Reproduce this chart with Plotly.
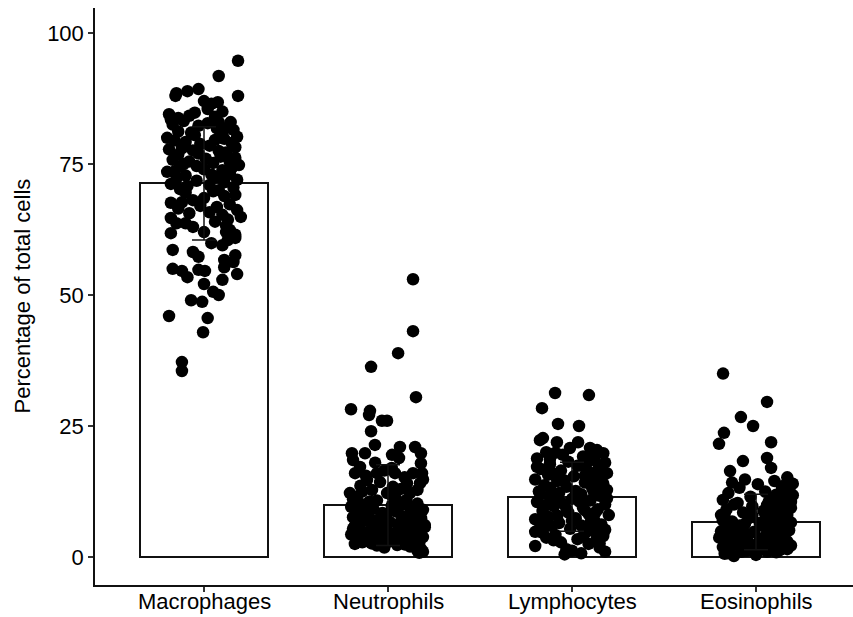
import plotly.graph_objects as go

categories = ["Macrophages", "Neutrophils", "Lymphocytes", "Eosinophils"]
means = [71.3, 9.9, 11.5, 6.7]
sds = [10.8, 7.7, 6.6, 5.3]
y_ticks = [0, 25, 50, 75, 100]

# (value, horizontal jitter offset in category units)
macrophages = [
    (94.7, .185), (91.8, .08), (88.0, .185), (88.5, -.15), (88.9, -.09), (89.3, -.03), (88.0, -.155),
    (87.0, .0), (86.5, .04), (86.8, .075), (85.5, .02), (85.0, .1), (84.0, .06), (83.5, -.18),
    (83.8, -.14), (83.2, -.11), (82.5, -.17), (82.0, .13), (81.5, .16), (83.0, .145), (80.5, -.05),
    (81.0, -.07), (80.0, -.2), (79.5, -.16), (79.8, .11), (79.0, .15), (78.5, .03), (78.0, -.12),
    (77.5, .08), (77.8, -.19), (77.0, -.03), (76.5, .12), (76.2, .17), (75.8, -.17), (75.5, -.08),
    (75.2, .05), (74.8, .19), (74.5, -.13), (74.0, .0), (73.8, .1), (73.5, -.2), (73.2, .14),
    (72.8, -.1), (72.5, .07), (72.2, -.15), (72.0, .18), (71.8, -.04), (71.5, .11), (71.2, -.18),
    (71.0, .03), (70.8, -.09), (70.5, .16), (70.2, -.13), (70.0, .08),
    (84.5, -.19), (84.2, -.08), (82.8, .02), (82.3, -.03), (81.8, .07), (80.8, .1), (80.2, .18),
    (79.2, -.1), (78.8, -.02), (78.2, .17), (77.2, .12), (76.8, -.14), (76.0, .01), (75.0, -.11),
    (74.2, .15), (73.0, .04), (72.7, .12), (84.8, -.05), (83.0, .08), (81.2, -.14), (79.6, .06),
    (77.6, -.06), (76.4, .09), (75.4, .14), (74.6, -.04), (73.6, -.16),
    (69.5, -.1), (69.1, .17), (68.5, .0), (68.1, -.06), (67.7, -.12), (67.6, -.18), (67.3, .14),
    (66.8, .07), (66.2, .18), (65.8, .03), (65.3, .1), (64.9, .2), (64.7, -.18), (64.4, .13),
    (63.7, -.15), (63.7, -.1), (63.2, .12), (63.0, -.06), (62.4, .14), (62.0, .0), (62.0, .12),
    (61.8, -.18), (61.5, .17), (60.9, .17), (60.5, .13), (59.9, .04), (59.5, .1), (58.6, -.17),
    (58.2, -.06), (57.6, .17), (57.3, -.03), (56.7, .11), (56.3, .16), (55.3, .11), (55.0, -.17),
    (54.8, -.03), (54.6, -.12), (54.6, .005), (54.0, .18), (53.4, -.09), (52.9, .10), (52.1, .0),
    (50.6, .05), (50.0, .08), (49.0, -.07), (48.7, -.01), (46.0, -.19), (45.6, .02), (42.9, -.005),
    (37.2, -.12), (35.5, -.12),
    (69.8, .05), (68.9, .11), (67.0, -.02), (66.5, -.14), (65.6, -.08), (64.0, .06),
]

neutrophils = [
    (53.0, .136), (43.1, .136), (38.9, .055), (36.3, -.092), (30.5, .152), (28.2, -.201), (27.9, -.098),
    (27.1, -.103), (26.0, -.033), (26.0, -.005), (24.0, -.092), (21.4, -.071), (21.0, .065), (21.0, .147),
    (19.8, -.196), (19.8, -.125), (19.8, .179), (19.5, .022), (18.9, .060), (18.5, -.19), (17.9, .179),
    (17.2, -.152), (16.0, -.179), (16.0, -.060), (16.0, .038), (16.0, .136), (16.0, .185), (14.7, -.114),
    (14.3, -.043), (14.1, .103), (14.1, .174), (13.4, .027), (12.8, -.087), (12.2, -.207), (12.2, -.005),
    (12.2, .12), (11.5, -.168),
    (11.0, -.19), (10.8, -.06), (10.5, .09), (10.2, .16), (10.0, -.13), (9.8, .02), (9.6, -.2),
    (9.4, .12), (9.2, -.08), (9.0, .19), (8.8, -.16), (8.6, .05), (8.4, -.03), (8.2, .14), (8.0, -.11),
    (7.8, .08), (7.6, -.19), (7.4, .18), (7.2, -.05), (7.0, .1), (6.9, -.14), (6.7, .01), (6.5, .15),
    (6.3, -.09), (6.1, .2), (6.0, -.18), (5.8, .06), (5.6, -.02), (5.5, .13), (5.3, -.15), (5.1, .09),
    (5.0, -.07), (4.8, .17), (4.6, -.12), (4.5, .03), (4.3, -.2), (4.2, .11), (4.0, -.04), (3.8, .19),
    (3.7, -.16), (3.5, .07), (3.3, -.09), (3.2, .14), (3.0, -.13), (2.9, .0), (2.7, .17), (2.5, -.18),
    (2.3, .05), (2.2, -.06), (2.0, .12), (1.8, -.02), (1.5, .18), (1.2, .16), (1.0, .19), (0.8, .17),
    (10.9, .1), (10.3, -.17), (9.9, .07), (9.1, -.12), (8.9, .02), (8.1, -.17), (7.9, .13), (7.3, -.1),
    (6.8, .07), (6.2, -.04), (5.9, .16), (5.4, -.19), (4.9, .0), (4.4, .15), (3.9, -.1), (3.4, .1),
    (2.8, -.14), (2.4, .09), (1.9, .15), (11.3, .04), (10.6, -.1), (9.5, -.15), (8.5, .16), (7.5, -.01),
    (6.6, -.16), (5.7, .2), (4.7, -.17), (3.6, .04), (2.6, -.09), (12.8, .16), (13.6, -.15), (15.2, .09),
    (15.5, -.12), (17.0, .02), (18.0, -.07), (13.0, .07), (11.8, .02), (12.5, -.14), (14.8, .19),
    (16.5, -.02),
]

lymphocytes = [
    (31.3, -.092), (30.9, .092), (28.4, -.163), (25.4, -.076), (25.0, .038), (22.7, -.158), (22.3, -.174),
    (21.9, -.082), (21.9, .033), (20.8, -.011), (20.8, .098), (20.4, .136), (20.0, -.14), (19.8, .17),
    (19.5, -.05), (19.2, .06), (18.8, -.19), (18.5, .12), (18.2, -.02), (18.0, .18), (17.7, -.12),
    (17.4, .03), (17.1, .15), (16.8, -.17), (16.5, -.06), (16.2, .09), (16.0, .19), (15.7, -.13),
    (15.4, .01), (15.1, .13), (14.8, -.2), (14.5, -.08), (14.2, .07), (14.0, .17), (13.7, -.15),
    (13.4, -.03), (13.1, .11), (12.8, .19), (12.5, -.18), (12.2, -.07), (12.0, .05), (11.7, .15),
    (11.4, -.12), (11.1, .0), (10.8, .1), (10.5, -.19), (10.2, -.05), (10.0, .18), (9.7, -.1), (9.4, .06),
    (9.1, .14), (8.8, -.16), (8.5, -.02), (8.2, .09), (8.0, .2), (7.7, -.13), (7.4, .02), (7.1, .12),
    (6.8, -.18), (6.5, -.07), (6.2, .16), (6.0, .05), (5.7, -.15), (5.4, -.01), (5.1, .11), (4.8, -.2),
    (4.5, .07), (4.2, -.09), (4.0, .17), (3.7, -.14), (3.4, .03), (3.1, .13), (2.8, -.06), (2.5, .09),
    (2.1, -.2), (1.8, .15), (1.5, -.03), (1.2, .0), (1.0, .18), (0.7, .05), (0.5, -.04),
    (19.9, -.09), (19.0, .11), (18.6, -.12), (17.9, .08), (17.2, -.19), (16.6, .14), (15.9, -.1),
    (15.2, .16), (14.6, -.04), (13.9, .1), (13.2, -.12), (12.6, .02), (11.9, -.17), (11.2, .19),
    (10.6, .04), (9.9, -.14), (9.2, -.03), (8.6, .13), (7.9, -.08), (7.2, -.2), (6.6, .1), (5.9, -.11),
    (5.2, .18), (4.6, -.16), (3.9, .06), (3.2, -.1), (2.6, .15), (17.5, .05), (15.5, .07), (13.5, .15),
    (12.3, .12), (10.9, -.08), (8.9, .07), (6.9, .0), (4.9, .12),
]

eosinophils = [
    (35.0, -.179), (29.6, .060), (26.7, -.082), (25.0, -.016), (23.7, -.174), (21.6, -.201), (21.9, .082),
    (18.3, -.071), (18.9, .060), (16.4, -.141), (17.0, .082), (15.2, .17), (14.8, -.06), (14.5, .1),
    (14.2, -.13), (13.9, .01), (13.5, .14), (13.2, -.09), (12.8, .18), (12.5, .05), (12.2, -.15),
    (11.9, .11), (11.5, -.03), (11.2, .16), (10.9, -.18), (10.6, .07), (10.3, -.1), (10.0, .13),
    (9.7, -.02), (9.4, .19), (9.1, -.16), (8.8, .04), (8.5, -.07), (8.2, .12), (8.0, -.19), (7.7, .09),
    (7.4, -.04), (7.1, .17), (6.8, -.13), (6.5, .02), (6.2, .14), (6.0, -.09), (5.7, .08), (5.4, -.17),
    (5.1, .18), (4.8, -.01), (4.5, .11), (4.2, -.14), (4.0, .05), (3.7, -.2), (3.4, .15), (3.1, -.06),
    (2.8, .09), (2.5, -.11), (2.2, .19), (1.9, -.18), (1.6, .03), (1.3, .13), (1.0, -.08), (0.7, -.15),
    (0.4, .0), (0.2, -.12),
    (13.0, .18), (12.0, .13), (11.0, .09), (10.5, .19), (9.9, .06), (9.0, .15), (8.6, .1), (8.0, .17),
    (7.5, .12), (7.0, -.18), (6.6, .19), (6.3, -.06), (5.9, .04), (5.5, -.11), (5.2, .1), (4.9, -.19),
    (4.6, .16), (4.3, -.04), (3.9, .12), (3.6, -.15), (3.2, .07), (2.9, -.1), (2.6, .14), (2.3, -.02),
    (2.0, .07), (1.8, -.14), (1.5, .17), (1.2, -.05), (0.9, .11), (0.6, -.17), (11.8, .2), (10.0, -.12),
    (8.3, -.17), (7.2, .05), (6.0, .09), (4.4, -.08), (3.3, .02), (2.1, -.07), (1.0, .06), (14.0, .2),
    (12.6, .15), (9.5, .12), (7.9, -.02), (5.0, .14), (3.0, .17),
]

groups = [macrophages, neutrophils, lymphocytes, eosinophils]
positions = list(range(len(categories)))

fig = go.Figure()

fig.add_trace(go.Bar(
    x=positions, y=means, width=0.7,
    marker=dict(color="white", line=dict(color="#111111", width=2)),
    showlegend=False, hoverinfo="skip",
))

px_list, py_list = [], []
for i, pts in enumerate(groups):
    for val, dx in pts:
        px_list.append(i + dx)
        py_list.append(val)

fig.add_trace(go.Scatter(
    x=px_list, y=py_list, mode="markers",
    marker=dict(color="black", size=12.5, line=dict(width=0)),
    showlegend=False,
))

fig.add_trace(go.Scatter(
    x=positions, y=means, mode="markers",
    marker=dict(opacity=0, size=1),
    error_y=dict(type="data", array=sds, visible=True, color="#111111", thickness=1.5, width=12),
    showlegend=False, hoverinfo="skip",
))

L, T, W, H = 95, 8, 853, 617
plot_w = W - L
plot_h = 585 - T
cat_px = 184.0
x0 = -(204 - L) / cat_px
x1 = x0 + plot_w / cat_px

fig.update_layout(
    width=W, height=H,
    margin=dict(l=L, r=0, t=T, b=H - 585, autoexpand=False),
    plot_bgcolor="white", paper_bgcolor="white",
    font=dict(family="Liberation Sans, Arial, sans-serif", color="black"),
    bargap=0,
)
fig.update_xaxes(
    range=[x0, x1], tickmode="array", tickvals=positions, ticktext=categories,
    showticklabels=False,
    showline=True, linecolor="#111111", linewidth=1.5, mirror=False,
    ticks="outside", ticklen=5, tickwidth=1.5, tickcolor="#333333",
    showgrid=False, zeroline=False,
    automargin=False,
)
fig.update_yaxes(
    range=[-5.34, 104.77], tickmode="array", tickvals=y_ticks,
    showline=True, linecolor="#111111", linewidth=1.5,
    ticks="outside", ticklen=5, tickwidth=1.5, tickcolor="#333333",
    showgrid=False, zeroline=False, tickfont=dict(size=22, color="black"),
    automargin=False,
)
for pos, name in zip(positions, categories):
    fig.add_annotation(
        text=name, x=pos, xref="x", yref="paper", y=(585 - 601) / plot_h,
        xanchor="center", yanchor="middle", showarrow=False,
        font=dict(size=22, color="black"),
    )
fig.add_annotation(
    text="Percentage of total cells", xref="paper", yref="paper",
    x=(22 - L) / plot_w, y=0.5, xanchor="center", yanchor="middle",
    textangle=-90, showarrow=False, font=dict(size=22, color="black"),
)

fig.write_html("out.html")
